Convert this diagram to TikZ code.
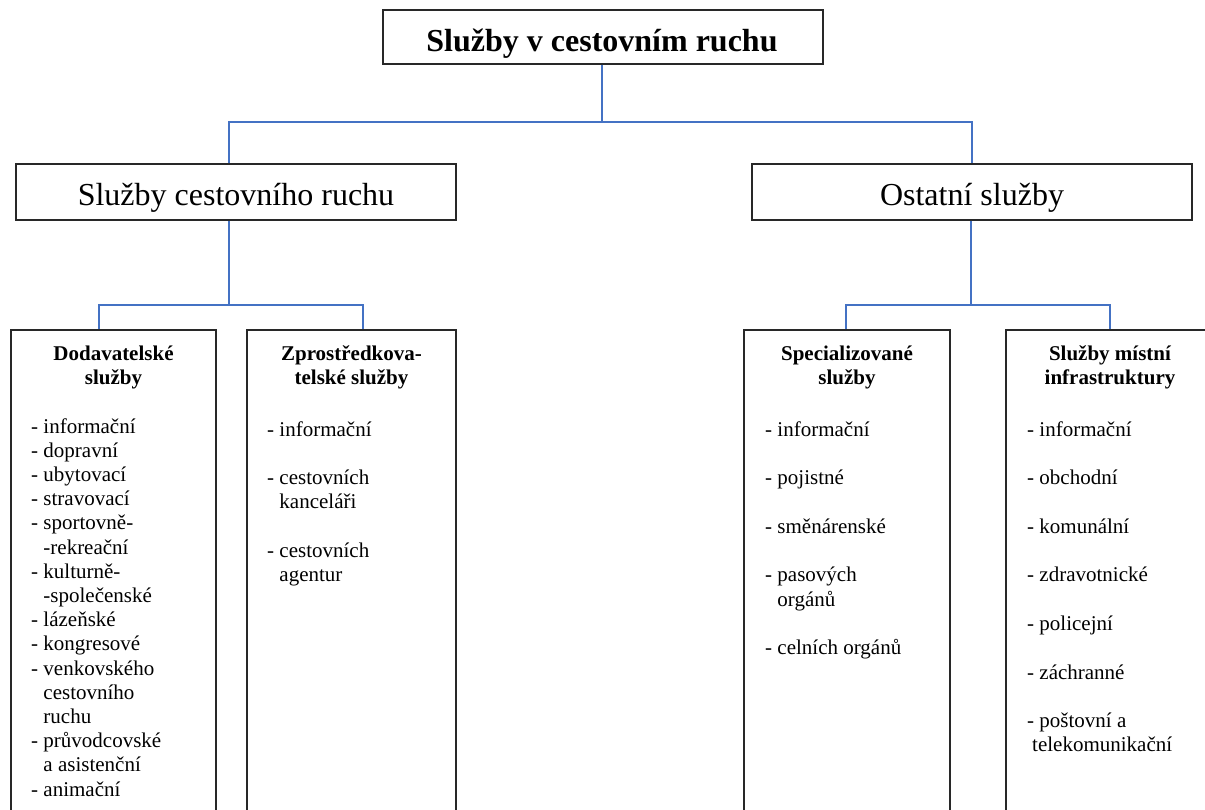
\documentclass[tikz,border=0pt]{standalone}
\usepackage{fontspec}
\setmainfont{Liberation Serif}
\definecolor{conblue}{RGB}{68,114,196}
\definecolor{boxline}{RGB}{40,40,40}
\begin{document}
\begin{tikzpicture}[x=1pt,y=-1pt,
  box/.style={draw=boxline,line width=1.3pt,inner sep=0pt,rectangle},
  conn/.style={draw=conblue,line width=1.1pt},
  titletxt/.style={anchor=base,inner sep=0pt,font=\fontsize{32}{38}\selectfont\bfseries},
  lvltwo/.style={anchor=base,inner sep=0pt,font=\fontsize{32}{38}\selectfont},
  hdr/.style={anchor=base,inner sep=0pt,font=\fontsize{21}{24.4}\selectfont\bfseries},
  lst/.style={anchor=base west,inner sep=0pt,font=\fontsize{21}{24.3}\selectfont},
  lstA/.style={anchor=base west,inner sep=0pt,font=\fontsize{21}{24.2}\selectfont}]
\useasboundingbox (0,0) rectangle (1205,809);
\clip (0,0) rectangle (1205,809);

% boxes
\node[box,minimum width=440,minimum height=54] (top) at (603,37) {};
\node[box,minimum width=440,minimum height=56] (l2a) at (236,192) {};
\node[box,minimum width=440,minimum height=56] (l2b) at (972,192) {};
\node[box,minimum width=205,minimum height=510] (b1) at (113.5,585) {};
\node[box,minimum width=209,minimum height=510] (b2) at (351.5,585) {};
\node[box,minimum width=206,minimum height=510] (b3) at (847,585) {};
\node[box,minimum width=208,minimum height=510] (b4) at (1110,585) {};

% connectors
\coordinate (j0) at (602,122);
\coordinate (jA) at (229,122);
\coordinate (jB) at (972,122);
\draw[conn] (top.south -| j0) -- (j0);
\draw[conn] (jA |- l2a.north) -- (jA) -- (jB) -- (jB |- l2b.north);
\coordinate (jC) at (229,305);
\coordinate (c1) at (99,305);
\coordinate (c2) at (363,305);
\draw[conn] (l2a.south -| jC) -- (jC);
\draw[conn] (c1 |- b1.north) -- (c1) -- (c2) -- (c2 |- b2.north);
\coordinate (jD) at (971,305);
\coordinate (c3) at (846,305);
\coordinate (c4) at (1110,305);
\draw[conn] (l2b.south -| jD) -- (jD);
\draw[conn] (c3 |- b3.north) -- (c3) -- (c4) -- (c4 |- b4.north);

% texts
\node[titletxt] (tT) at (602,51) {Služby v cestovním ruchu};
\node[lvltwo] (aT) at (236,205) {Služby cestovního ruchu};
\node[lvltwo] (bT) at (972,205) {Ostatní služby};

\node[hdr] (h1) at (113.5,360) {\begin{tabular}[t]{@{}c@{}}Dodavatelské\\služby\end{tabular}};
\node[hdr] (h2) at (351.5,360) {\begin{tabular}[t]{@{}c@{}}Zprostředkova-\\telské služby\end{tabular}};
\node[hdr] (h3) at (847,360) {\begin{tabular}[t]{@{}c@{}}Specializované\\služby\end{tabular}};
\node[hdr] (h4) at (1110,360) {\begin{tabular}[t]{@{}c@{}}Služby místní\\infrastruktury\end{tabular}};

\node[lstA] (t1) at (31,433) {\begin{tabular}[t]{@{}l@{}}
- informační\\
- dopravní\\
- ubytovací\\
- stravovací\\
- sportovně-\\
\phantom{- }-rekreační\\
- kulturně-\\
\phantom{- }-společenské\\
- lázeňské\\
- kongresové\\
- venkovského\\
\phantom{- }cestovního\\
\phantom{- }ruchu\\
- průvodcovské\\
\phantom{- }a asistenční\\
- animační
\end{tabular}};

\node[lst] (t2) at (267,436) {\begin{tabular}[t]{@{}l@{}}
- informační\\
\\
- cestovních\\
\phantom{- }kanceláři\\
\\
- cestovních\\
\phantom{- }agentur
\end{tabular}};

\node[lst] (t3) at (765,436) {\begin{tabular}[t]{@{}l@{}}
- informační\\
\\
- pojistné\\
\\
- směnárenské\\
\\
- pasových\\
\phantom{- }orgánů\\
\\
- celních orgánů
\end{tabular}};

\node[lst] (t4) at (1027,436) {\begin{tabular}[t]{@{}l@{}}
- informační\\
\\
- obchodní\\
\\
- komunální\\
\\
- zdravotnické\\
\\
- policejní\\
\\
- záchranné\\
\\
- poštovní a\\
\hspace{5pt}telekomunikační
\end{tabular}};
\end{tikzpicture}
\end{document}
